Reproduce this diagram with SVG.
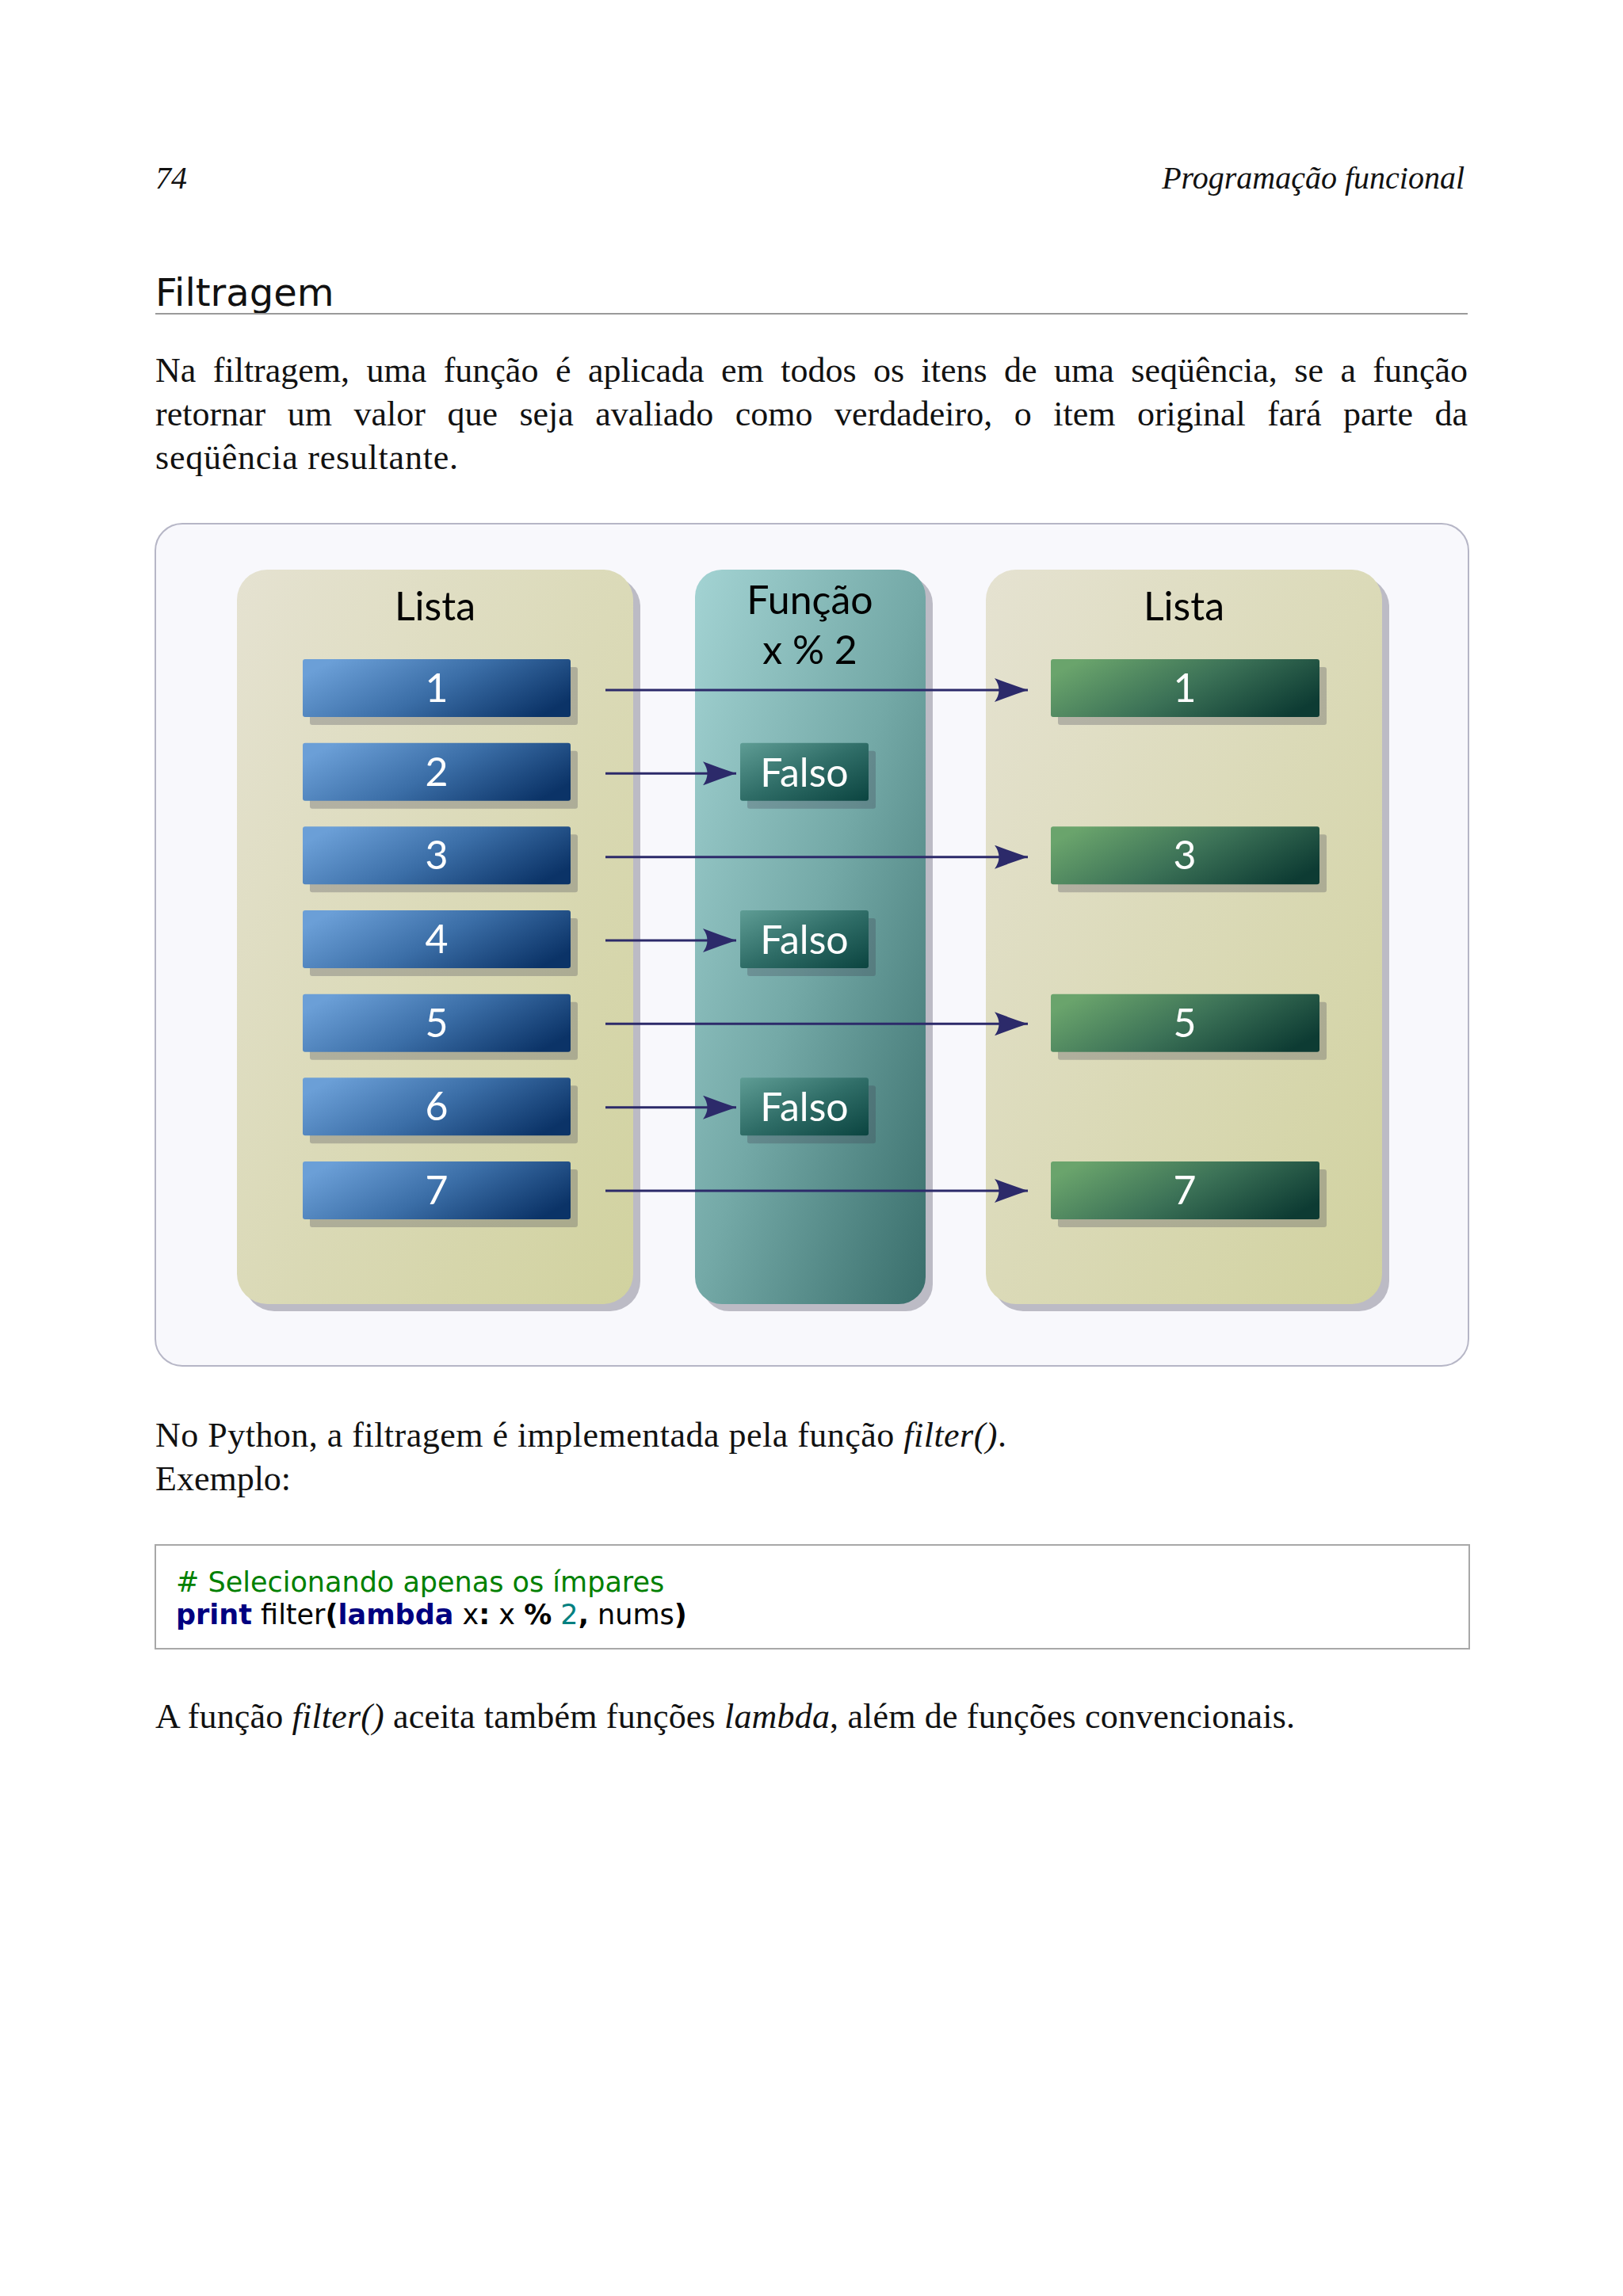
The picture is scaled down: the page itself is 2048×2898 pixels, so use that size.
<svg xmlns="http://www.w3.org/2000/svg" width="2048" height="2898" viewBox="0 0 2048 2898">
<style>
.hdr{font-family:"Liberation Serif",serif;font-style:italic;font-size:40px;fill:#111}
.h2{font-family:"DejaVu Sans",sans-serif;font-size:48px;fill:#111}
.body{font-family:"Liberation Serif",serif;font-size:44px;fill:#111}
.it{font-style:italic}
.dtitle{font-family:Lato,"DejaVu Sans",sans-serif;font-size:50px;fill:#000;text-anchor:middle}
.num{font-family:Lato,"DejaVu Sans",sans-serif;font-size:50px;fill:#fff;text-anchor:middle}
.code{font-family:"DejaVu Sans",sans-serif;font-size:35px;fill:#000}
.b{font-weight:bold}
.kw{font-weight:bold;fill:#000080}
.cm{fill:#008000}
.nm{fill:#008080}
.shadow{fill:#bcbbc5}
.bshadow{fill:#3c3c50;fill-opacity:0.28}
.conn{stroke:#2c2a6a;stroke-width:3;fill:none;marker-end:url(#ah)}
</style>
<defs>
<linearGradient id="gLista" x1="0" y1="0" x2="1" y2="1">
<stop offset="0" stop-color="#e5e2d1"/>
<stop offset="1" stop-color="#d1d29f"/>
</linearGradient>
<linearGradient id="gFunc" x1="0" y1="0" x2="1" y2="1">
<stop offset="0" stop-color="#a3d3d3"/>
<stop offset="0.5" stop-color="#74a9a7"/>
<stop offset="1" stop-color="#396e6b"/>
</linearGradient>
<linearGradient id="gBlue" x1="0" y1="0.3" x2="1" y2="0.7">
<stop offset="0" stop-color="#6b9fd7"/>
<stop offset="0.5" stop-color="#3b6ea7"/>
<stop offset="1" stop-color="#0b3367"/>
</linearGradient>
<linearGradient id="gGreen" x1="0" y1="0.3" x2="1" y2="0.7">
<stop offset="0" stop-color="#6aa46c"/>
<stop offset="0.5" stop-color="#3c7257"/>
<stop offset="1" stop-color="#0d3b33"/>
</linearGradient>
<linearGradient id="gFalso" x1="0" y1="0" x2="1" y2="1">
<stop offset="0" stop-color="#5f9d95"/>
<stop offset="0.5" stop-color="#2f6d67"/>
<stop offset="1" stop-color="#0b4440"/>
</linearGradient>
<marker id="ah" viewBox="0 0 44 30" refX="43" refY="15" markerWidth="44" markerHeight="30" markerUnits="userSpaceOnUse" orient="auto">
<path d="M43 15 Q22 8 1 0 Q12 15 1 30 Q22 22 43 15 Z" fill="#2c2a6a"/>
</marker>
</defs>
<rect x="0" y="0" width="2048" height="2898" fill="#ffffff"/>

<g id="header">
<text class="hdr" x="196" y="238">74</text>
<text class="hdr" x="1848" y="238" text-anchor="end">Programação funcional</text>
</g>

<g id="section-title">
<text class="h2" x="196" y="386">Filtragem</text>
<line x1="196" y1="396" x2="1852" y2="396" stroke="#9a9a9a" stroke-width="2"/>
</g>

<g id="paragraph1">
<text class="body" y="482"><tspan x="196">Na</tspan> <tspan x="268.8">filtragem,</tspan> <tspan x="462.5">uma</tspan> <tspan x="559.7">função</tspan> <tspan x="700.9">é</tspan> <tspan x="741.9">aplicada</tspan> <tspan x="909.9">em</tspan> <tspan x="985.2">todos</tspan> <tspan x="1102">os</tspan> <tspan x="1162.5">itens</tspan> <tspan x="1267.1">de</tspan> <tspan x="1330.1">uma</tspan> <tspan x="1427.3">seqüência,</tspan> <tspan x="1633.3">se</tspan> <tspan x="1691.4">a</tspan> <tspan x="1732.3">função</tspan></text>
<text class="body" y="537"><tspan x="196">retornar</tspan> <tspan x="362.7">um</tspan> <tspan x="446.5">valor</tspan> <tspan x="564.4">que</tspan> <tspan x="655.4">seja</tspan> <tspan x="751.3">avaliado</tspan> <tspan x="927.8">como</tspan> <tspan x="1053.1">verdadeiro,</tspan> <tspan x="1279.7">o</tspan> <tspan x="1329.2">item</tspan> <tspan x="1434.9">original</tspan> <tspan x="1599.2">fará</tspan> <tspan x="1695.1">parte</tspan> <tspan x="1810.5">da</tspan></text>
<text class="body" x="196" y="592" textLength="382" lengthAdjust="spacing">seqüência resultante.</text>
</g>

<g id="frame">
<rect x="196" y="661" width="1657" height="1063" rx="34" ry="34" fill="#f8f8fc" stroke="#b6b6c6" stroke-width="2"/>
</g>

<g id="lista-entrada">
<rect class="shadow" x="308" y="728" width="500" height="927" rx="38" ry="38"/>
<rect x="299" y="719" width="500" height="927" rx="38" ry="38" fill="url(#gLista)"/>
<text class="dtitle" x="549" y="783">Lista</text>
</g>

<g id="funcao">
<rect class="shadow" x="886" y="728" width="291" height="927" rx="34" ry="34"/>
<rect x="877" y="719" width="291" height="927" rx="34" ry="34" fill="url(#gFunc)"/>
<text class="dtitle" x="1022" y="775">Função</text>
<text class="dtitle" x="1022" y="838">x % 2</text>
</g>

<g id="lista-saida">
<rect class="shadow" x="1253" y="728" width="500" height="927" rx="38" ry="38"/>
<rect x="1244" y="719" width="500" height="927" rx="38" ry="38" fill="url(#gLista)"/>
<text class="dtitle" x="1494" y="783">Lista</text>
</g>

<g id="in-1"><rect class="bshadow" x="391" y="842" width="338" height="73" rx="3"/><rect x="382" y="832" width="338" height="73" rx="3" fill="url(#gBlue)"/><text class="num" x="551" y="886">1</text></g>
<g id="in-2"><rect class="bshadow" x="391" y="947.7" width="338" height="73" rx="3"/><rect x="382" y="937.7" width="338" height="73" rx="3" fill="url(#gBlue)"/><text class="num" x="551" y="991.7">2</text></g>
<g id="in-3"><rect class="bshadow" x="391" y="1053.3" width="338" height="73" rx="3"/><rect x="382" y="1043.3" width="338" height="73" rx="3" fill="url(#gBlue)"/><text class="num" x="551" y="1097.3">3</text></g>
<g id="in-4"><rect class="bshadow" x="391" y="1159" width="338" height="73" rx="3"/><rect x="382" y="1149" width="338" height="73" rx="3" fill="url(#gBlue)"/><text class="num" x="551" y="1203">4</text></g>
<g id="in-5"><rect class="bshadow" x="391" y="1264.7" width="338" height="73" rx="3"/><rect x="382" y="1254.7" width="338" height="73" rx="3" fill="url(#gBlue)"/><text class="num" x="551" y="1308.7">5</text></g>
<g id="in-6"><rect class="bshadow" x="391" y="1370.3" width="338" height="73" rx="3"/><rect x="382" y="1360.3" width="338" height="73" rx="3" fill="url(#gBlue)"/><text class="num" x="551" y="1414.3">6</text></g>
<g id="in-7"><rect class="bshadow" x="391" y="1476" width="338" height="73" rx="3"/><rect x="382" y="1466" width="338" height="73" rx="3" fill="url(#gBlue)"/><text class="num" x="551" y="1520">7</text></g>

<g id="falso-2"><rect class="bshadow" x="943" y="947.7" width="162" height="73" rx="3"/><rect x="934" y="937.7" width="162" height="73" rx="3" fill="url(#gFalso)"/><text class="num" x="1015" y="992.7">Falso</text></g>
<g id="falso-4"><rect class="bshadow" x="943" y="1159" width="162" height="73" rx="3"/><rect x="934" y="1149" width="162" height="73" rx="3" fill="url(#gFalso)"/><text class="num" x="1015" y="1204">Falso</text></g>
<g id="falso-6"><rect class="bshadow" x="943" y="1370.3" width="162" height="73" rx="3"/><rect x="934" y="1360.3" width="162" height="73" rx="3" fill="url(#gFalso)"/><text class="num" x="1015" y="1415.3">Falso</text></g>

<g id="out-1"><rect class="bshadow" x="1335" y="842" width="339" height="73" rx="3"/><rect x="1326" y="832" width="339" height="73" rx="3" fill="url(#gGreen)"/><text class="num" x="1495" y="886">1</text></g>
<g id="out-3"><rect class="bshadow" x="1335" y="1053.3" width="339" height="73" rx="3"/><rect x="1326" y="1043.3" width="339" height="73" rx="3" fill="url(#gGreen)"/><text class="num" x="1495" y="1097.3">3</text></g>
<g id="out-5"><rect class="bshadow" x="1335" y="1264.7" width="339" height="73" rx="3"/><rect x="1326" y="1254.7" width="339" height="73" rx="3" fill="url(#gGreen)"/><text class="num" x="1495" y="1308.7">5</text></g>
<g id="out-7"><rect class="bshadow" x="1335" y="1476" width="339" height="73" rx="3"/><rect x="1326" y="1466" width="339" height="73" rx="3" fill="url(#gGreen)"/><text class="num" x="1495" y="1520">7</text></g>

<g id="connectors">
<line class="conn" x1="764" y1="871" x2="1297" y2="871"/>
<line class="conn" x1="764" y1="976.3" x2="929" y2="976.3"/>
<line class="conn" x1="764" y1="1081.7" x2="1297" y2="1081.7"/>
<line class="conn" x1="764" y1="1187" x2="929" y2="1187"/>
<line class="conn" x1="764" y1="1292.3" x2="1297" y2="1292.3"/>
<line class="conn" x1="764" y1="1397.7" x2="929" y2="1397.7"/>
<line class="conn" x1="764" y1="1503" x2="1297" y2="1503"/>
</g>

<g id="paragraph2">
<text class="body" x="196" y="1826" textLength="1074" lengthAdjust="spacing">No Python, a filtragem é implementada pela função <tspan class="it">filter()</tspan>.</text>
<text class="body" x="196" y="1881">Exemplo:</text>
</g>

<g id="code-block">
<rect x="196" y="1950" width="1658" height="131" fill="#ffffff" stroke="#a8a8a8" stroke-width="2"/>
<text class="code" x="222" y="2009"><tspan class="cm"># Selecionando apenas os ímpares</tspan></text>
<text class="code" x="222" y="2050"><tspan class="kw">print</tspan> filter<tspan class="b">(</tspan><tspan class="kw">lambda</tspan> x<tspan class="b">:</tspan> x <tspan class="b">%</tspan> <tspan class="nm">2</tspan><tspan class="b">,</tspan> nums<tspan class="b">)</tspan></text>
</g>

<g id="paragraph3">
<text class="body" x="196" y="2181" textLength="1438" lengthAdjust="spacing">A função <tspan class="it">filter()</tspan> aceita também funções <tspan class="it">lambda</tspan>, além de funções convencionais.</text>
</g>
</svg>
